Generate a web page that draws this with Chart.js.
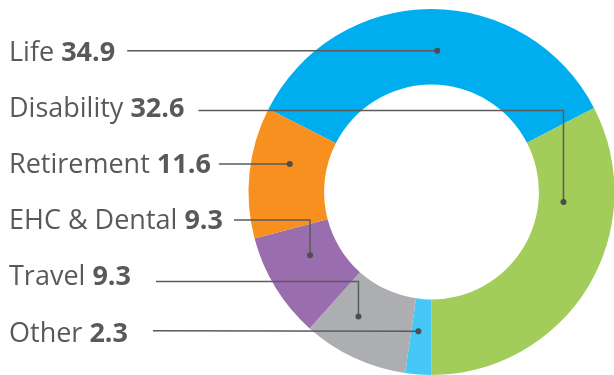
<!DOCTYPE html>
<html>
<head>
<meta charset="utf-8">
<script src="https://cdn.jsdelivr.net/npm/chart.js@4"></script>
<style>
  html, body { margin: 0; padding: 0; background: #fff; }
  #wrap { width: 614px; height: 375px; position: relative; }
</style>
</head>
<body>
<div id="wrap"><canvas id="benefitsChart"></canvas></div>
<script>
// slices, in the order they run clockwise round the ring
const segments = ['Life', 'Disability', 'Other', 'Travel', 'EHC & Dental', 'Retirement'];
const shares = [34.9, 32.6, 2.3, 9.3, 9.3, 11.6];
// order of the text rows down the left side
const rowOrder = ['Life', 'Disability', 'Retirement', 'EHC & Dental', 'Travel', 'Other'];

const colors = ['#00aeef', '#a2cd5a', '#45c8f5', '#acaeb1', '#9a6eae', '#f7901e'];
// where each leader dot sits in its slice: fraction along the arc, fraction across the ring
const dotAlong = [0.52, 0.27, 0.65, 0.66, 0.62, 0.62];
const dotAcross = [0.45, 0.33, 0.43, 0.49, 0.39, 0.49];

const textColor = '#58595b';
const lineColor = '#5a5b5d';
const fontFamily = '"Open Sans", sans-serif';
const fontSize = 27;
const textX = 9;
const rowTop = 50.7;
const rowStep = 56.2;
const lineShift = [0, 3.5, 1, 0.8, 6, -1];
const lineGap = [12, 14, 8, 11, 25, 25];

const leaderLabels = {
    id: 'leaderLabels',
    afterDraw(chart) {
        const ctx = chart.ctx;
        const arcs = chart.getDatasetMeta(0).data;
        ctx.save();
        rowOrder.forEach((name, row) => {
            const i = segments.indexOf(name);
            const p = arcs[i].getProps(['x', 'y', 'startAngle', 'endAngle', 'innerRadius', 'outerRadius'], true);
            const a = p.startAngle + (p.endAngle - p.startAngle) * dotAlong[i];
            const r = p.innerRadius + (p.outerRadius - p.innerRadius) * dotAcross[i];
            const dotX = p.x + Math.cos(a) * r;
            const dotY = p.y + Math.sin(a) * r;

            const midY = rowTop + row * rowStep;
            const base = midY + 9.8;
            ctx.textAlign = 'left';
            ctx.textBaseline = 'alphabetic';
            ctx.fillStyle = textColor;
            ctx.font = fontSize + 'px ' + fontFamily;
            const nameText = name + ' ';
            ctx.fillText(nameText, textX, base);
            let w = ctx.measureText(nameText).width;
            ctx.font = 'bold ' + fontSize + 'px ' + fontFamily;
            const valText = shares[i].toFixed(1);
            ctx.fillText(valText, textX + w, base);
            w += ctx.measureText(valText).width;

            const lineY = midY + lineShift[row];
            const x0 = textX + w + lineGap[row];
            ctx.strokeStyle = lineColor;
            ctx.lineWidth = 1.5;
            ctx.beginPath();
            ctx.moveTo(x0, lineY);
            if (Math.abs(dotY - lineY) < 4) {
                ctx.lineTo(dotX, dotY);
            } else {
                ctx.lineTo(dotX, lineY);
                ctx.lineTo(dotX, dotY);
            }
            ctx.stroke();

            ctx.beginPath();
            ctx.arc(dotX, dotY, 3, 0, Math.PI * 2);
            ctx.fillStyle = '#4d4e50';
            ctx.fill();
        });
        ctx.restore();
    }
};

const ctx = document.getElementById('benefitsChart').getContext('2d');
new Chart(ctx, {
    type: 'doughnut',
    data: {
        labels: segments,
        datasets: [{
            data: shares,
            backgroundColor: colors,
            borderWidth: 0,
            rotation: -63,
            cutout: '58.7%',
            radius: 183
        }]
    },
    options: {
        responsive: true,
        maintainAspectRatio: false,
        animation: false,
        events: [],
        layout: { padding: { left: 249, right: 0, top: 9, bottom: 0 } },
        plugins: { legend: { display: false }, tooltip: { enabled: false } }
    },
    plugins: [leaderLabels]
});
</script>
</body>
</html>
